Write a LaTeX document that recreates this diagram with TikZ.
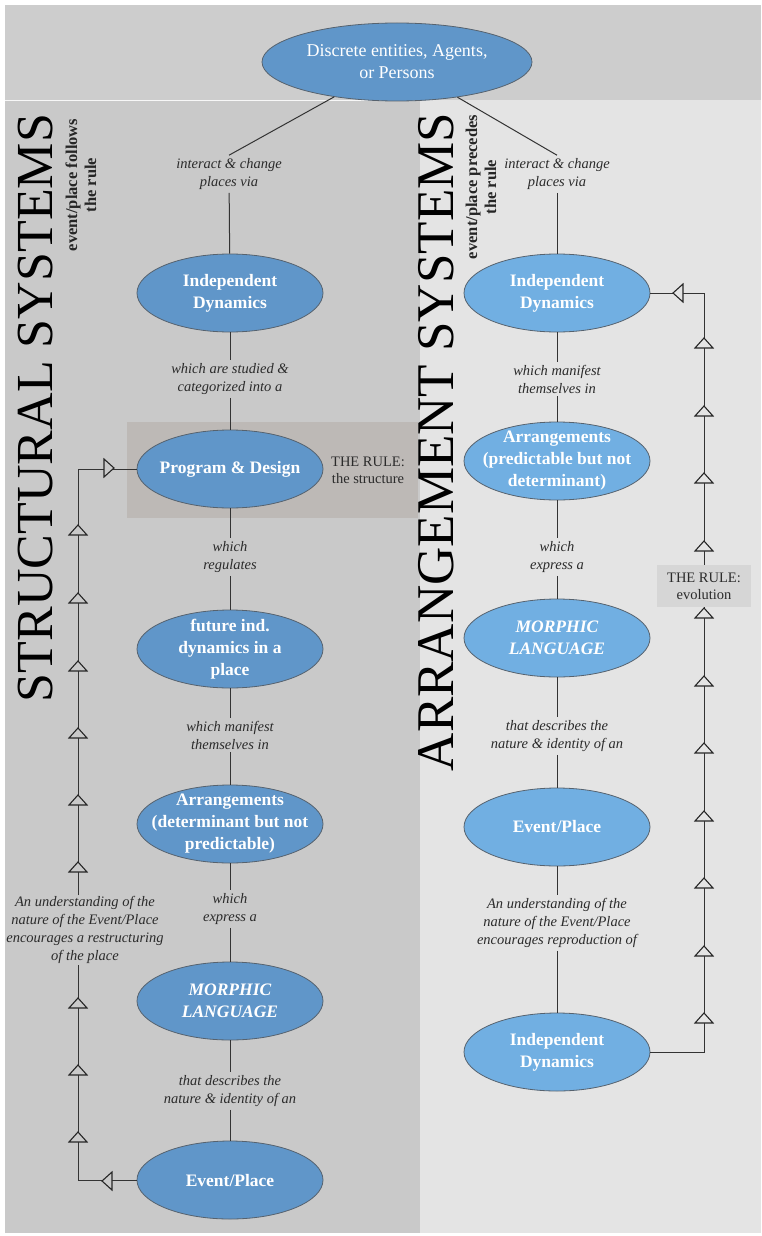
\documentclass[tikz,border=0pt]{standalone}
\usepackage{fontspec}
\setmainfont{Liberation Serif}
\usetikzlibrary{shapes.geometric}
\definecolor{topbg}{HTML}{CDCDCD}
\definecolor{leftbg}{HTML}{C9C9C9}
\definecolor{rightbg}{HTML}{E4E4E4}
\definecolor{hlbox}{HTML}{BDB9B6}
\definecolor{rulebg}{HTML}{D6D6D6}
\definecolor{lblue}{HTML}{6096C9}
\definecolor{rblue}{HTML}{71AFE2}
\definecolor{eborder}{HTML}{56626E}
\definecolor{labc}{HTML}{2B2B2B}
\definecolor{linec}{HTML}{333333}
\tikzset{
  ell/.style={ellipse, draw=eborder, line width=0.8pt, minimum width=186pt, minimum height=78pt,
    inner xsep=-25pt, inner ysep=-12pt, text=white, align=center, font=\fontsize{17.5}{22}\selectfont\bfseries},
  lell/.style={ell, fill=lblue},
  rell/.style={ell, fill=rblue},
  lab/.style={font=\fontsize{14.5}{18}\selectfont\itshape, text=labc, align=center, inner sep=3pt},
  conn/.style={draw=linec, line width=1pt},
  pics/tri/.style={code={\draw[fill=#1, draw=black!85, line width=1.1pt, line join=miter]
      (-9,0) -- (9,0) -- (0,-10) -- cycle;}},
}
\begin{document}
\begin{tikzpicture}[x=1pt, y=-1pt]
\useasboundingbox (0,0) rectangle (761,1236);
\fill[white] (0,0) rectangle (761,1236);
% backgrounds
\fill[topbg] (5,5) rectangle (761,100);
\fill[leftbg] (5,100) rectangle (420,1233);
\fill[rightbg] (420,100) rectangle (761,1233);
\draw[white!85!leftbg, line width=0.6pt] (5,100) -- (420,100);
\fill[hlbox] (127,422) rectangle (418,518);
% titles
\node[rotate=90, font=\fontsize{52}{52}\selectfont, text=black] (tL) at (36,408) {STRUCTURAL SYSTEMS};
\node[rotate=90, font=\fontsize{16.5}{19}\selectfont\bfseries, text=black!85, align=center] (sL) at (81,185) {event/place follows\\the rule};
\node[rotate=90, font=\fontsize{53}{53}\selectfont, text=black] (tR) at (436,442) {ARRANGEMENT SYSTEMS};
\node[rotate=90, font=\fontsize{16.5}{19}\selectfont\bfseries, text=black!85, align=center] (sR) at (481,187) {event/place precedes\\the rule};
% top
\node[ell, fill=lblue, minimum width=270pt, minimum height=78pt, font=\fontsize{18}{22}\selectfont] (top) at (397,62) {Discrete entities, Agents,\\or Persons};
% left column
\node[lab] (la1) at (229,174) {interact \& change\\places via};
\node[lell] (indL) at (230,293) {Independent\\Dynamics};
\node[lab] (la2) at (230,379) {which are studied \&\\categorized into a};
\node[lell] (pdL) at (230,469) {Program \& Design};
\node[font=\fontsize{14.5}{17}\selectfont, text=labc, align=center] (ruleL) at (368,470) {THE RULE:\\the structure};
\node[lab] (la3) at (230,557) {which\\regulates};
\node[lell] (futL) at (230,649) {future ind.\\dynamics in a\\place};
\node[lab] (la4) at (230,735) {which manifest\\themselves in};
\node[lell] (arrL) at (230,824) {Arrangements\\(determinant but not\\predictable)};
\node[lab] (la5) at (230,909) {which\\express a};
\node[lell] (morL) at (230,1001) {\textit{MORPHIC}\\\textit{LANGUAGE}};
\node[lab] (la6) at (230,1091) {that describes the\\nature \& identity of an};
\node[lell] (evL) at (230,1180) {Event/Place};
\node[lab] (lloop) at (85,930) {An understanding of the\\nature of the Event/Place\\encourages a restructuring\\of the place};
\coordinate (lloopT) at (78,895);
\coordinate (lloopB) at (78,965);
% right column
\node[lab] (ra1) at (557,174) {interact \& change\\places via};
\node[rell] (indR) at (557,293) {Independent\\Dynamics};
\node[lab] (ra2) at (557,379) {which manifest\\themselves in};
\node[rell] (arrR) at (557,461) {Arrangements\\(predictable but not\\determinant)};
\node[lab] (ra3) at (557,557) {which\\express a};
\node[rell] (morR) at (557,638) {\textit{MORPHIC}\\\textit{LANGUAGE}};
\node[lab] (ra4) at (557,736) {that describes the\\nature \& identity of an};
\node[rell] (evR) at (557,827) {Event/Place};
\node[lab] (ra5) at (557,923) {An understanding of the\\nature of the Event/Place\\encourages reproduction of};
\node[rell] (indR2) at (557,1052) {Independent\\Dynamics};
\node[fill=rulebg, minimum width=94pt, minimum height=42pt, inner sep=0pt, align=center,
  font=\fontsize{14.5}{17}\selectfont, text=labc] (ruleR) at (704,586) {THE RULE:\\evolution};
% connectors
\draw[conn] (top) -- (la1.north);
\draw[conn] (top) -- (ra1.north);
\draw[conn] (la1) -- (indL);
\draw[conn] (indL) -- (la2) -- (pdL) -- (la3) -- (futL) -- (la4) -- (arrL) -- (la5) -- (morL) -- (la6) -- (evL);
\draw[conn] (ra1) -- (indR) -- (ra2) -- (arrR) -- (ra3) -- (morR) -- (ra4) -- (evR) -- (ra5) -- (indR2);
% left loop
\draw[conn] (evL.west) -| (lloopB);
\draw[conn] (lloopT) |- (pdL.west);
% right loop
\draw[conn] (indR2.east) -| (ruleR.south);
\draw[conn] (ruleR.north) |- (indR.east);
% triangles left
\foreach \yy in {535,603,671,738,805,872,1008,1075,1142} {\pic at (78,\yy) {tri=leftbg};}
\pic[rotate=-90] at (104,468) {tri=leftbg};
\pic[rotate=90] at (112,1181) {tri=leftbg};
% triangles right
\foreach \yy in {348,416,483,551,618,686,753,821,888,956,1023} {\pic at (704,\yy) {tri=rightbg};}
\pic[rotate=90] at (683,293) {tri=rightbg};
\end{tikzpicture}
\end{document}
